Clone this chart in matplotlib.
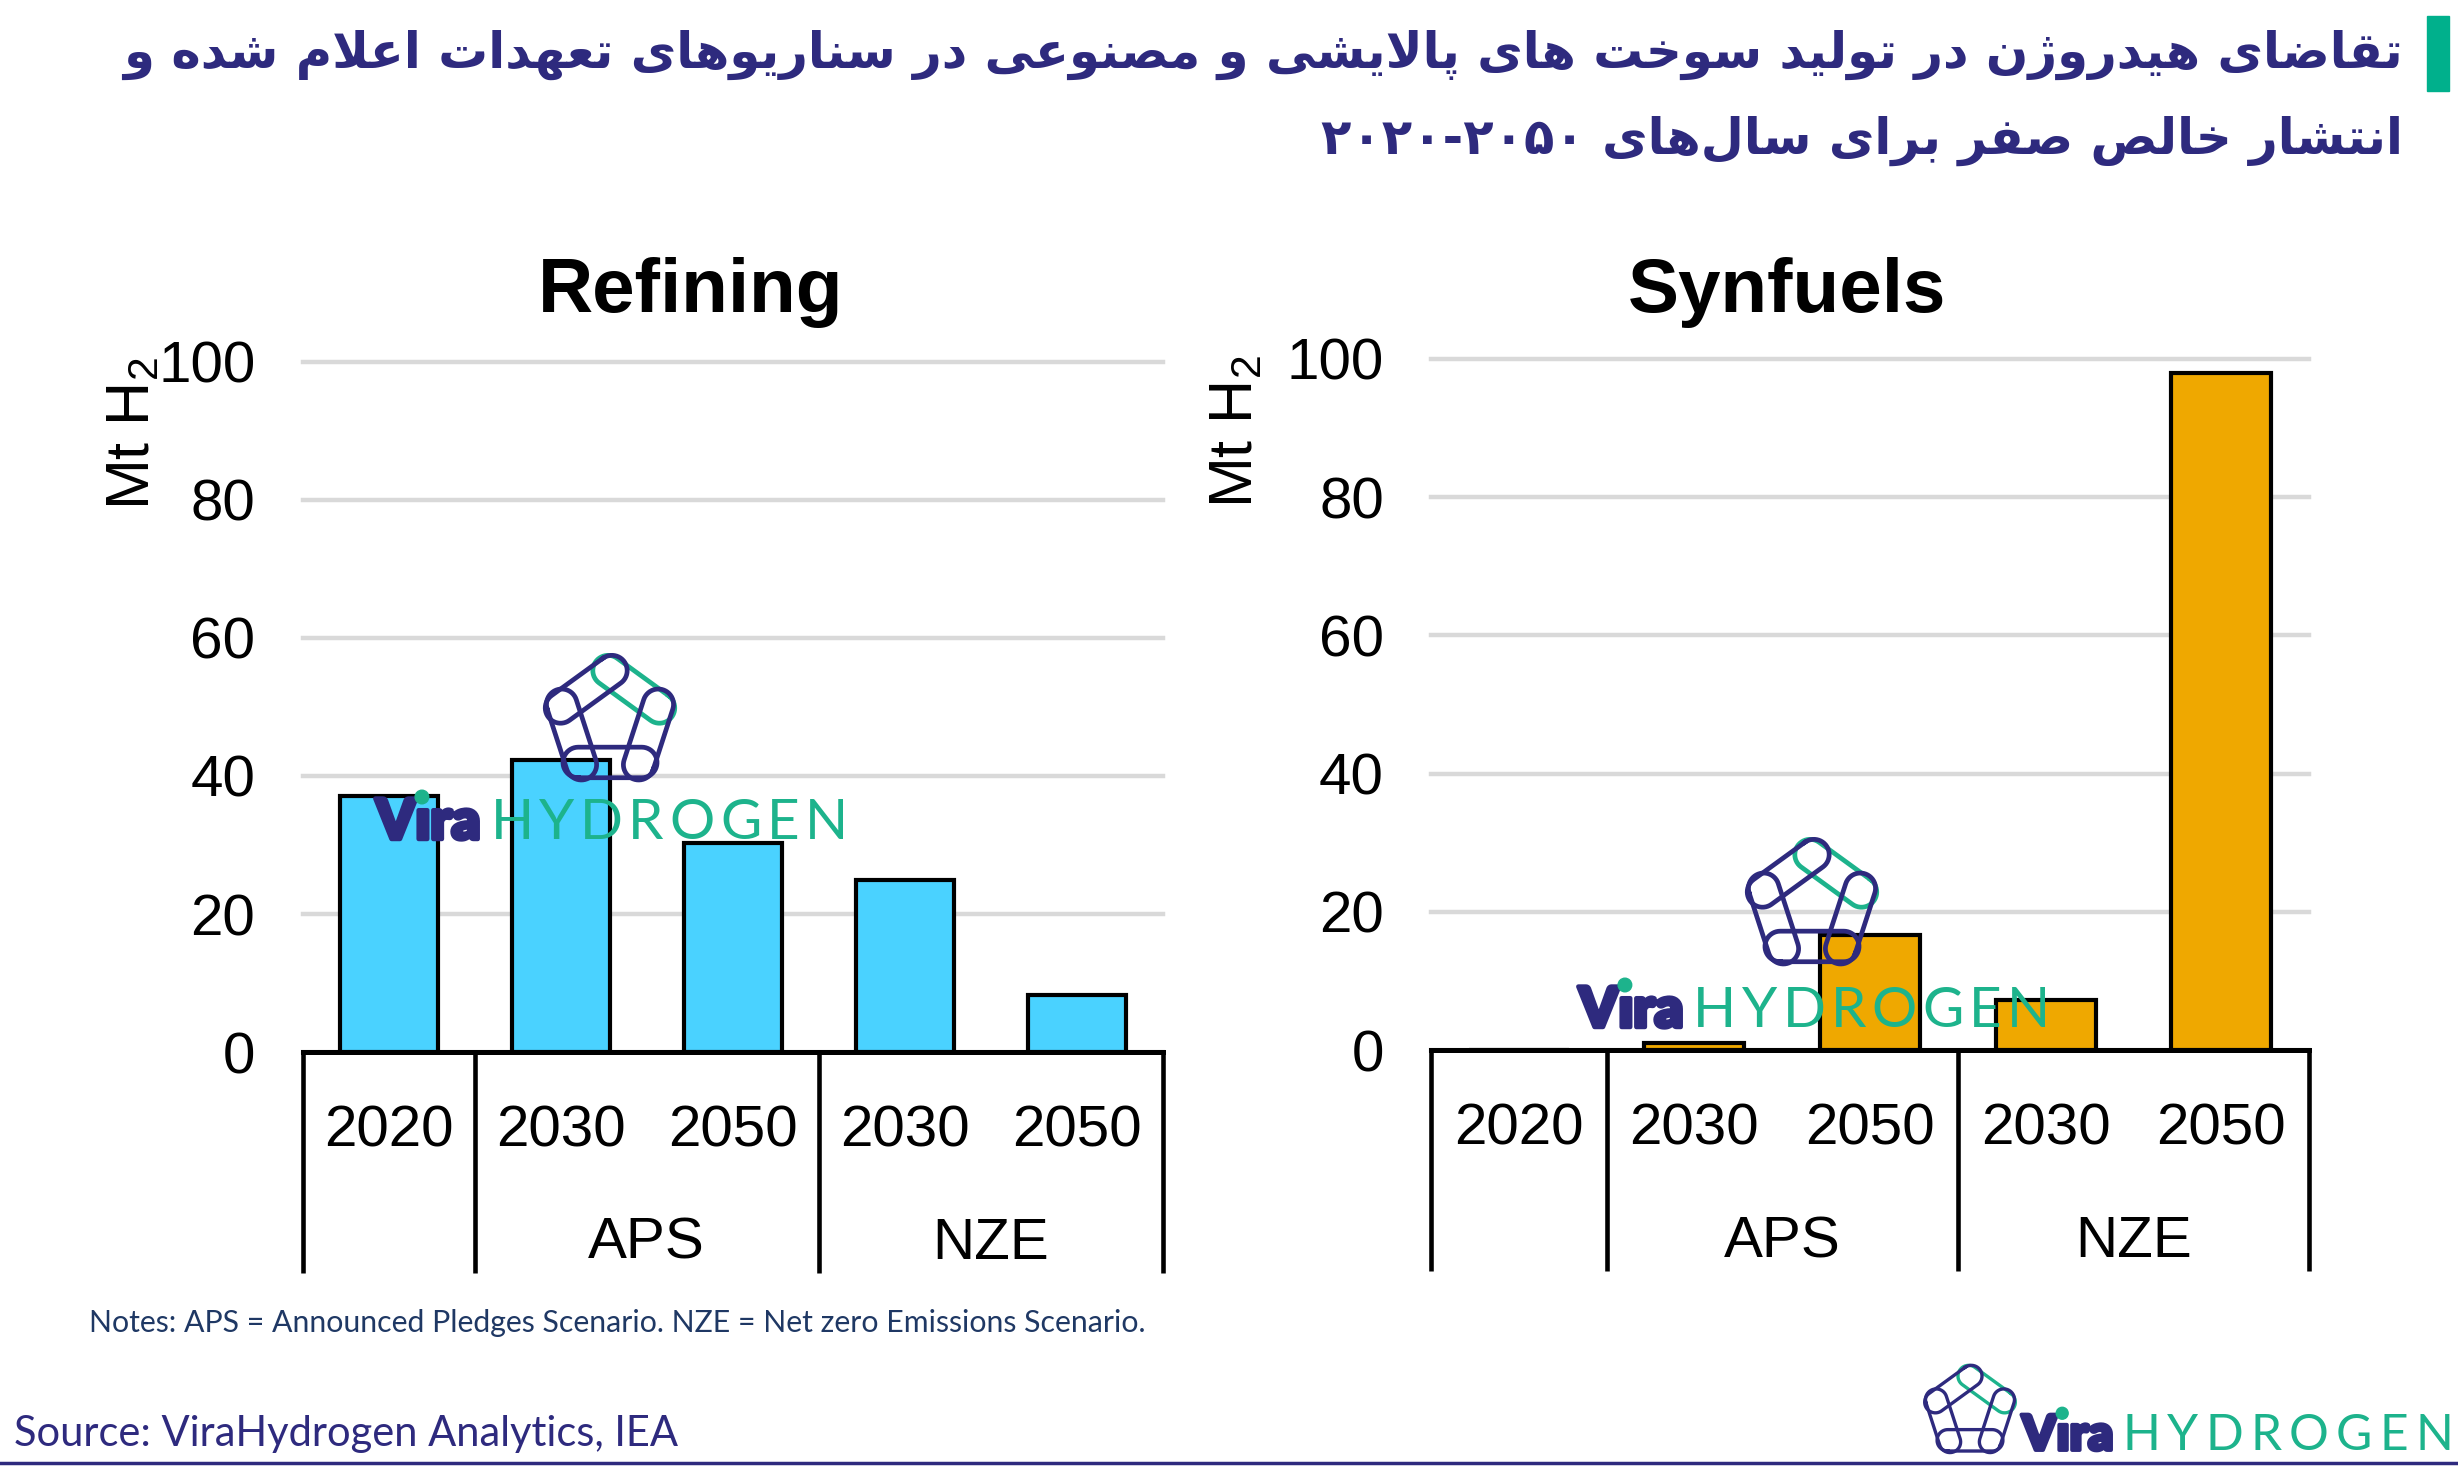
import re
import numpy as np
import matplotlib
matplotlib.use("Agg")
import matplotlib.pyplot as plt
from matplotlib import transforms
from matplotlib import patheffects as pe
from matplotlib.patches import Rectangle, Circle

plt.rcParams['font.family'] = ['Liberation Sans', 'DejaVu Sans']
plt.rcParams['mathtext.fontset'] = 'custom'
plt.rcParams['mathtext.rm'] = 'Liberation Sans'
plt.rcParams['mathtext.it'] = 'Liberation Sans:italic'
plt.rcParams['mathtext.bf'] = 'Liberation Sans:bold'

W, H = 2458, 1470

# ---- data ----
years = ['2020', '2030', '2050', '2030', '2050']
group_labels = ['', 'APS', 'NZE']
group_sizes = [1, 2, 2]
refining = [37.1, 42.3, 30.3, 24.9, 8.3]
synfuels = [0.0, 1.0, 16.7, 7.2, 98.0]
yticks = [0, 20, 40, 60, 80, 100]

title_lines = [
    "تقاضای هیدروژن در تولید سوخت های پالایشی و مصنوعی در سناریوهای تعهدات اعلام شده و",
    "انتشار خالص صفر برای سال\u200cهای ۲۰۲۰-۲۰۵۰",
]
notes = "Notes: APS = Announced Pledges Scenario. NZE = Net zero Emissions Scenario."
source = "Source: ViraHydrogen Analytics, IEA"

NAVY = '#2E2A7E'
TEAL = '#1DB38C'
BLUE = '#4AD2FF'
ORANGE = '#EFA800'

# ---- minimal arabic/persian shaping (no reshaper lib available) ----
_four = {'ب': 0xFE8F, 'ت': 0xFE95, 'ث': 0xFE99, 'ج': 0xFE9D, 'ح': 0xFEA1, 'خ': 0xFEA5,
         'س': 0xFEB1, 'ش': 0xFEB5, 'ص': 0xFEB9, 'ض': 0xFEBD, 'ط': 0xFEC1, 'ظ': 0xFEC5,
         'ع': 0xFEC9, 'غ': 0xFECD, 'ف': 0xFED1, 'ق': 0xFED5, 'ل': 0xFEDD, 'م': 0xFEE1,
         'ن': 0xFEE5, 'ه': 0xFEE9, 'پ': 0xFB56, 'چ': 0xFB7A, 'ک': 0xFB8E, 'گ': 0xFB92,
         'ی': 0xFBFC}
_two = {'ا': 0xFE8D, 'آ': 0xFE81, 'د': 0xFEA9, 'ذ': 0xFEAB, 'ر': 0xFEAD, 'ز': 0xFEAF,
        'و': 0xFEED, 'ژ': 0xFB8A}
FORMS = {c: tuple(chr(b + k) for k in range(4)) for c, b in _four.items()}
FORMS.update({c: (chr(b), chr(b + 1), None, None) for c, b in _two.items()})


def rtl(text):
    def dual(c):
        return c in FORMS and FORMS[c][2] is not None
    res = []
    i, n = 0, len(text)
    while i < n:
        c = text[i]
        if c == '\u200c':
            i += 1
            continue
        if c not in FORMS:
            res.append(c)
            i += 1
            continue
        jp = i > 0 and dual(text[i - 1])
        if c == 'ل' and i + 1 < n and text[i + 1] == 'ا':
            res.append('\uFEFC' if jp else '\uFEFB')
            i += 2
            continue
        jn = dual(c) and i + 1 < n and text[i + 1] in FORMS
        iso, fin, ini, med = FORMS[c]
        res.append(med if (jp and jn) else fin if jp else ini if jn else iso)
        i += 1
    tokens = re.findall(r'[0-9۰-۹]+(?:-[0-9۰-۹]+)*|.', ''.join(res))
    return ''.join(reversed(tokens))


fig = plt.figure(figsize=(W / 100, H / 100), dpi=100)
fig.patch.set_facecolor('white')


def panel(rect, values, color):
    ax = fig.add_axes(rect)
    x = np.arange(len(values))
    ax.bar(x, values, width=0.57, color=color, edgecolor='black', linewidth=3, zorder=3)
    ax.set_xlim(-0.5, len(values) - 0.5)
    ax.set_ylim(0, 100)
    ax.set_yticks(yticks)
    ax.yaxis.grid(True, color='#D9D9D9', lw=3.2)
    for gl in ax.get_ygridlines():
        gl.set_clip_on(False)
    ax.set_axisbelow(True)
    for s in ['top', 'right', 'left']:
        ax.spines[s].set_visible(False)
    ax.spines['bottom'].set_linewidth(3.6)
    ax.spines['bottom'].set_zorder(4)
    ax.tick_params(axis='y', length=0, pad=34, labelsize=42)
    ax.set_xticks(x, years)
    ax.tick_params(axis='x', length=0, pad=38, labelsize=42)
    trans = transforms.blended_transform_factory(ax.transData, ax.transAxes)
    bounds = np.concatenate([[0], np.cumsum(group_sizes)]) - 0.5
    for b in bounds:
        ax.plot([b, b], [0, -0.32], transform=trans, color='black', lw=3.3,
                clip_on=False, solid_capstyle='butt')
    for g, lo, hi in zip(group_labels, bounds[:-1], bounds[1:]):
        ax.text((lo + hi) / 2, -0.278, g, transform=trans, ha='center', va='center',
                fontsize=42)
    return ax


panel([302.5 / W, 1 - 1052 / H, 860.5 / W, 690 / H], refining, BLUE)
panel([1431 / W, 1 - 1050 / H, 878 / W, 691 / H], synfuels, ORANGE)

# overlay in pixel coordinates for titles, notes, logos
ov = fig.add_axes([0, 0, 1, 1], zorder=10)
ov.set_xlim(0, W)
ov.set_ylim(H, 0)
ov.axis('off')
rend = fig.canvas.get_renderer()


def fit_width(t, target):
    w = t.get_window_extent(rend).width
    t.set_fontsize(t.get_fontsize() * target / w)


ov.text(691, 312, 'Refining', ha='center', va='baseline', fontsize=55, fontweight='bold')
ov.text(1787, 312, 'Synfuels', ha='center', va='baseline', fontsize=55, fontweight='bold')
ov.text(134, 433, 'Mt H$_2$', rotation=90, ha='center', va='center', fontsize=44)
ov.text(1237, 431, 'Mt H$_2$', rotation=90, ha='center', va='center', fontsize=44)

t1 = ov.text(2403, 55, rtl(title_lines[0]), ha='right', va='center', fontsize=34,
             fontweight='bold', family=['DejaVu Sans'], color=NAVY)
fit_width(t1, 2281)
ov.text(2403, 141, rtl(title_lines[1]), ha='right', va='center', fontsize=t1.get_fontsize(),
        fontweight='bold', family=['DejaVu Sans'], color=NAVY)
ov.add_patch(Rectangle((2427, 16), 22, 75, color='#00B08C'))

tn = ov.text(89, 1323, notes, va='center', fontsize=20, family=['Lato', 'DejaVu Sans'],
             color='#1F3864')
fit_width(tn, 1058)
ts = ov.text(14, 1434, source, va='center', fontsize=27, family=['Lato', 'DejaVu Sans'],
             color=NAVY)
fit_width(ts, 665)
ov.plot([0, W], [1463, 1463], color=NAVY, lw=2.5)


def stadium(p0, p1, r):
    p0, p1 = np.asarray(p0), np.asarray(p1)
    u = (p1 - p0) / np.linalg.norm(p1 - p0)
    nrm = np.array([-u[1], u[0]])
    t = np.linspace(-np.pi / 2, np.pi / 2, 24)
    cap1 = p1 + np.outer(np.cos(t), u) * r + np.outer(np.sin(t), nrm) * r
    cap0 = p0 - np.outer(np.cos(t), u) * r - np.outer(np.sin(t), nrm) * r
    return np.vstack([cap1, cap0, cap1[:1]])


def logo(cx, cy, R, lw, vira_x, hyd_end, base, fs):
    ang = np.deg2rad([90, 18, -54, -126, 162])
    vx = cx + R * np.cos(ang)
    vy = cy - R * np.sin(ang)
    edge = 2 * R * np.sin(np.pi / 5)
    for k in range(5):
        a = np.array([vx[k], vy[k]])
        b = np.array([vx[(k + 1) % 5], vy[(k + 1) % 5]])
        u = (b - a) / np.linalg.norm(b - a)
        pts = stadium(a - u * 0.04 * edge, b + u * 0.04 * edge, 0.26 * edge)
        ov.plot(pts[:, 0], pts[:, 1], color=TEAL if k == 0 else NAVY, lw=lw,
                solid_joinstyle='round')
    tv = ov.text(vira_x, base, 'Vıra', va='baseline', fontsize=fs, fontweight='heavy',
                 family=['Lato', 'DejaVu Sans'], color=NAVY,
                 path_effects=[pe.withStroke(linewidth=fs * 0.08, foreground=NAVY)])
    bb = tv.get_window_extent(rend)
    # teal dot over the i
    ov.add_patch(Circle((vira_x + bb.width * 0.44, base - fs * 1.05), fs * 0.17, color=TEAL,
                        zorder=5))
    x0 = bb.x1 + fs * 0.25
    chars = []
    total = 0
    for ch in 'HYDROGEN':
        t = ov.text(x0, base, ch, va='baseline', fontsize=fs * 1.02, fontweight='normal',
                    family=['Lato', 'DejaVu Sans'], color=TEAL)
        chars.append(t)
        total += t.get_window_extent(rend).width
    gap = (hyd_end - x0 - total) / (len(chars) - 1)
    x = x0
    for t in chars:
        t.set_x(x)
        x += t.get_window_extent(rend).width + gap


logo(610, 722, 50, 3.4, 376, 848, 839, 40)
logo(1812, 906, 50, 3.4, 1579, 2050, 1027, 40)
logo(1970, 1412, 35, 2.4, 2022, 2453, 1450, 35)

fig.savefig('out.png', dpi=100, facecolor='white')
